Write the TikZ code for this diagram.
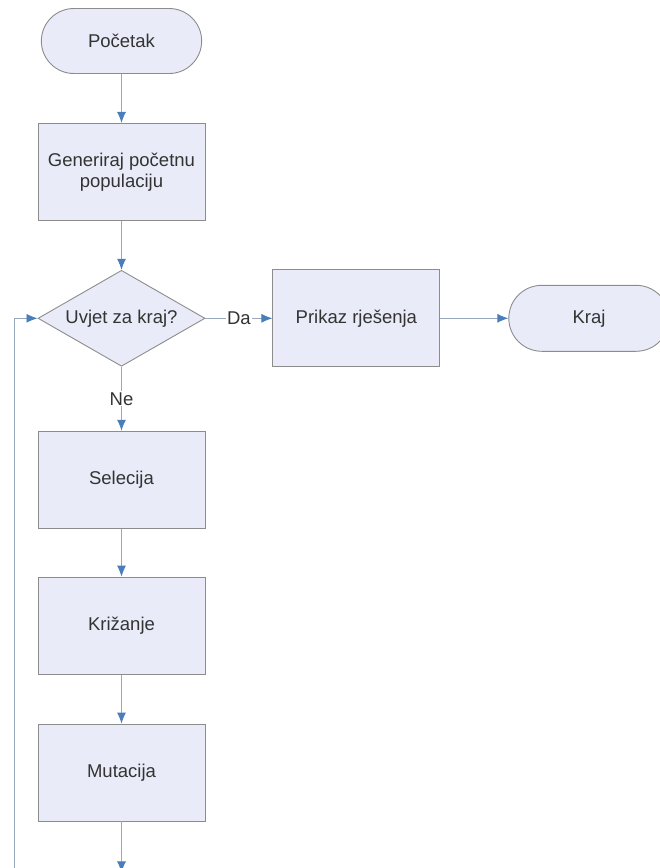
\documentclass[tikz,border=0pt]{standalone}
\usepackage{fontspec}
\setmainfont{Liberation Sans}
\usetikzlibrary{positioning,arrows.meta,shapes.geometric,shapes.misc}
\definecolor{boxfill}{HTML}{E9ECF8}
\definecolor{boxline}{HTML}{8C8C8C}
\definecolor{linegray}{HTML}{9AA8BE}
\definecolor{arrowblue}{HTML}{4A7EBB}
\definecolor{textgray}{HTML}{333333}

\begin{document}
\begin{tikzpicture}[node distance=49pt,>={Latex[length=11pt,width=9pt,color=arrowblue]},
  every node/.style={font=\fontsize{18.5pt}{21pt}\selectfont,text=textgray},
  box/.style={draw=boxline,fill=boxfill,line width=0.9pt,minimum width=167pt,minimum height=97pt,align=center},
  term/.style={rounded rectangle,draw=boxline,fill=boxfill,line width=0.9pt,minimum width=167pt,minimum height=65pt},
  cond/.style={diamond,draw=boxline,fill=boxfill,line width=0.9pt,aspect=1.74,inner sep=0pt,minimum width=167pt,minimum height=96pt},
  lbl/.style={fill=white,inner sep=1pt},
  conn/.style={draw=linegray,line width=0.9pt,->}]
  \path[use as bounding box] (0,0) rectangle (660pt,-868pt);
  \clip (0,0) rectangle (660pt,-868pt);

  \node[term] (start) at (121.5pt,-41pt) {Početak};
  \node[box,below=of start] (gen) {Generiraj početnu\\populaciju};
  \node[cond,below=of gen] (uvjet) {Uvjet za kraj?};
  \node[box,below=64pt of uvjet] (sel) {Selecija};
  \node[box,below=48pt of sel] (kriz) {Križanje};
  \node[box,below=of kriz] (mut) {Mutacija};
  \node[box,right=67pt of uvjet] (prikaz) {Prikaz rješenja};
  \node[term,minimum height=66pt,right=68pt of prikaz] (kraj) {Kraj};
  \coordinate[below=51pt of mut] (dolje);
  \coordinate (petlja) at (14pt,-868pt);

  \draw[conn] (start) -- (gen);
  \draw[conn] (gen) -- (uvjet);
  \draw[conn] (uvjet) -- node[lbl] {Da} (prikaz);
  \draw[conn] (prikaz) -- (kraj);
  \draw[conn] (uvjet) -- node[lbl] {Ne} (sel);
  \draw[conn] (sel) -- (kriz);
  \draw[conn] (kriz) -- (mut);
  \draw[conn] (mut) -- (dolje);
  \draw[conn] (petlja) |- (uvjet);
\end{tikzpicture}
\end{document}
